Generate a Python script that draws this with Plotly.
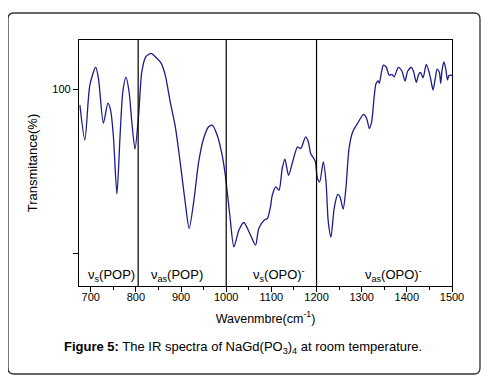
import plotly.graph_objects as go

wavenumber = [676, 687, 698, 711, 717, 728, 738, 744, 750, 758, 765, 771, 778, 785, 791, 798,
              806, 813, 822, 834, 843, 856, 865, 876, 887, 898, 910, 918, 928, 939, 950, 961,
              969, 980, 991, 998, 1008, 1017, 1028, 1039, 1054, 1065, 1072, 1084, 1091, 1098,
              1102, 1110, 1117, 1124, 1130, 1138, 1147, 1158, 1165, 1176, 1182, 1187, 1197,
              1202, 1207, 1215, 1221, 1226, 1232, 1239, 1247, 1252, 1259, 1265, 1272, 1280,
              1291, 1304, 1311, 1317, 1322, 1328, 1332, 1337, 1339, 1344, 1348, 1354, 1361,
              1367, 1372, 1381, 1389, 1396, 1402, 1410, 1415, 1421, 1426, 1430, 1436, 1443,
              1450, 1454, 1458, 1463, 1467, 1472, 1475, 1478, 1482, 1486, 1490, 1493, 1498, 1500]
transmittance = [90.4, 69.1, 102.6, 113.6, 106.9, 79.4, 91.6, 87.4, 72.1, 36.2, 72.1, 98.4, 107.5,
                 98.4, 80.1, 63.6, 84.3, 110.5, 119.9, 122.0, 119.9, 115.9, 108.7, 92.4, 77.6,
                 55.8, 29.4, 15.2, 31.5, 55.8, 70.1, 77.2, 78.2, 72.1, 59.9, 47.7, 23.3, 4.0,
                 14.2, 18.9, 11.1, 5.1, 15.2, 20.3, 21.3, 28.4, 35.5, 40.6, 38.6, 51.8, 57.5,
                 47.7, 55.8, 65.0, 64.0, 71.1, 68.0, 61.0, 56.3, 45.7, 43.7, 55.8, 43.7, 19.3,
                 10.1, 27.4, 36.0, 34.5, 27.0, 39.6, 64.0, 74.1, 79.3, 84.8, 82.3, 76.2, 80.2,
                 96.5, 103.7, 105.1, 103.7, 110.7, 114.8, 113.8, 108.7, 109.1, 107.7, 113.4,
                 111.2, 105.1, 111.2, 113.4, 110.7, 104.3, 109.1, 110.4, 107.1, 115.2, 109.8,
                 104.6, 99.6, 106.7, 112.4, 110.4, 103.7, 111.8, 116.8, 112.8, 105.7, 108.3,
                 108.7, 108.3]

x_ticks = [700, 800, 900, 1000, 1100, 1200, 1300, 1400, 1500]
y_ticks = [0, 100]
y_tick_labels = ["", "100"]
dividers = [805, 1000, 1200]
region_x = [745, 890, 1116, 1371]
region_labels = ["ν<sub>s</sub>(POP)", "ν<sub>as</sub>(POP)",
                 "ν<sub>s</sub>(OPO)<sup>-</sup>", "ν<sub>as</sub>(OPO)<sup>-</sup>"]

FONT = "Liberation Sans, Arial, sans-serif"

fig = go.Figure()
fig.add_trace(go.Scatter(
    x=wavenumber, y=transmittance, mode="lines",
    line=dict(color="#1c1c8a", width=1.3, shape="spline", smoothing=0.7),
    showlegend=False, hoverinfo="skip"))

for d in dividers:
    fig.add_shape(type="line", xref="x", yref="paper", x0=d, x1=d, y0=0, y1=1,
                  line=dict(color="black", width=1.2))

for rx, rl in zip(region_x, region_labels):
    fig.add_annotation(x=rx, y=-13.2, xref="x", yref="y", text=rl, showarrow=False,
                       yanchor="middle",
                       font=dict(family=FONT, size=13, color="black"))

# outer rounded frame (paper coordinates relative to plot area; window pixels)
L, R, T, B = 79, 452, 40, 286
def px(xp):
    return (xp - L) / (R - L)
def py(yp):
    return (B - yp) / (B - T)
x0, x1, y0, y1, r = 8, 480, 13, 374, 6
path = (f"M {px(x0 + r)},{py(y0)} L {px(x1 - r)},{py(y0)} "
        f"Q {px(x1)},{py(y0)} {px(x1)},{py(y0 + r)} L {px(x1)},{py(y1 - r)} "
        f"Q {px(x1)},{py(y1)} {px(x1 - r)},{py(y1)} L {px(x0 + r)},{py(y1)} "
        f"Q {px(x0)},{py(y1)} {px(x0)},{py(y1 - r)} L {px(x0)},{py(y0 + r)} "
        f"Q {px(x0)},{py(y0)} {px(x0 + r)},{py(y0)} Z")
fig.add_shape(type="path", xref="paper", yref="paper", path=path,
              line=dict(color="#333333", width=1.3))

fig.add_annotation(x=px(243), y=py(347), xref="paper", yref="paper",
                   xanchor="center", yanchor="middle",
                   text="<b>Figure 5:</b> The IR spectra of NaGd(PO<sub>3</sub>)<sub>4</sub> at room temperature.",
                   showarrow=False, font=dict(family=FONT, size=13, color="black"))

fig.update_xaxes(range=[674, 1500], tickvals=x_ticks, ticks="outside", ticklen=5,
                 tickwidth=1, tickcolor="black", showline=True, linecolor="black",
                 linewidth=1.3, mirror=True, showgrid=False, zeroline=False,
                 ticklabelstandoff=-4,
                 tickfont=dict(family=FONT, size=11, color="black"),
                 minor=dict(dtick=50, tick0=650, ticks="outside", ticklen=3, tickcolor="black"),
                 title=dict(text="Wavenmbre(cm<sup>-1</sup>)", standoff=11,
                            font=dict(family=FONT, size=12.5, color="black")))
fig.update_yaxes(range=[-19.8, 130.1], tickvals=y_ticks, ticktext=y_tick_labels,
                 ticks="outside", ticklen=5, tickwidth=1, tickcolor="black",
                 showline=True, linecolor="black", linewidth=1.3, mirror=True,
                 showgrid=False, zeroline=False,
                 tickfont=dict(family=FONT, size=11, color="black"),
                 title=dict(text="Transmitance(%)", standoff=11,
                            font=dict(family=FONT, size=13, color="black")))

# page body has an 8px margin, so the figure is placed at (8, 8) in the window
fig.update_layout(width=482, height=381, margin=dict(l=71, r=38, t=32, b=103, autoexpand=False),
                  paper_bgcolor="white", plot_bgcolor="white")

fig.write_html("out.html")
